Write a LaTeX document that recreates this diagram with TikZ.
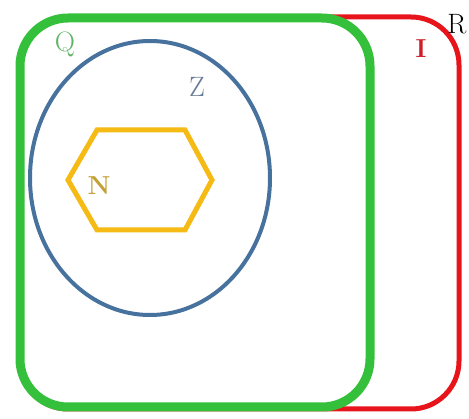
\documentclass[tikz,border=0pt]{standalone}
\usepackage{fontspec}
\usepackage{tikz}
\usetikzlibrary{positioning}

\definecolor{setR}{RGB}{232,20,27}
\definecolor{setQ}{RGB}{52,192,58}
\definecolor{setZ}{RGB}{72,114,158}
\definecolor{setN}{RGB}{245,186,20}
\definecolor{txtQ}{RGB}{96,180,104}
\definecolor{txtZ}{RGB}{104,124,150}
\definecolor{txtN}{RGB}{196,160,56}
\definecolor{txtI}{RGB}{206,30,40}

\begin{document}
\begin{tikzpicture}[x=1pt, y=-1pt,
    setlabel/.style={inner sep=0pt, font=\fontsize{28}{32}\selectfont}]
    \useasboundingbox (0,0) rectangle (469,419);

    % --- 集合 R 与 I ---
    \draw[setR, line width=5pt, rounded corners=48pt] (20,17) rectangle (459,409);

    % --- 集合 Q ---
    \draw[setQ, line width=9pt, rounded corners=48pt] (20,18) rectangle (370,407);

    % --- 集合 Z ---
    \draw[setZ, line width=4pt] (150,178) ellipse [x radius=120pt, y radius=137pt];

    % --- 集合 N (六边形) ---
    \draw[setN, line width=5pt, line join=miter]
        (97,130) -- (185,130) -- (212,180) -- (185,230) -- (97,230) -- (68,180) -- cycle;

    % 标签
    \node[setlabel, text=txtQ] (labQ) at (65,44) {Q};
    \node[setlabel, text=txtZ] (labZ) at (197,87) {Z};
    \node[setlabel, text=txtN, font=\fontsize{26}{30}\selectfont\bfseries] (labN) at (99,186) {N};
    \node[setlabel, text=txtI, font=\fontsize{26}{30}\selectfont\bfseries] (labI) at (421,49) {I};
    \node[setlabel, text=black] (labR) at (457,24) {R};
\end{tikzpicture}
\end{document}
